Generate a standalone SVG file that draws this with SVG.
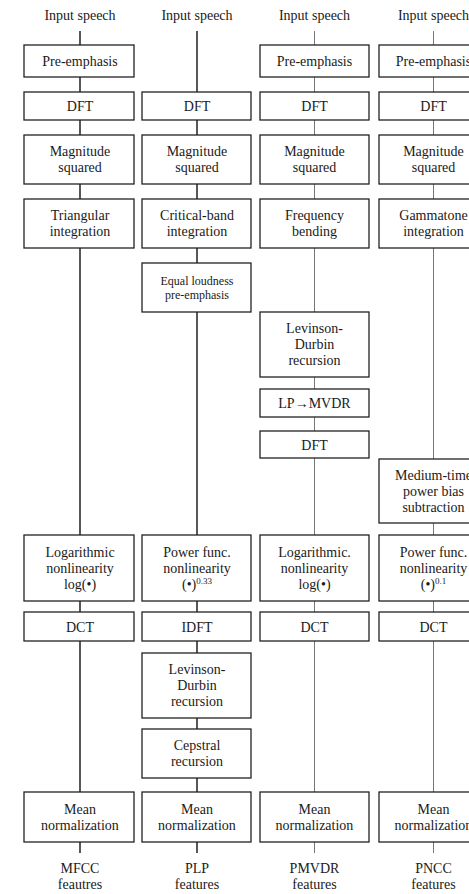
<svg xmlns="http://www.w3.org/2000/svg" width="469" height="894" viewBox="0 0 469 894" font-family="'Liberation Serif', 'Times New Roman', serif">
<style>
text{font-size:14px;fill:#1a1a1a;text-anchor:middle}
.s{font-size:12px}
.sup{font-size:9px}
rect{fill:#fff;stroke:#222;stroke-width:1.3}
.d line{stroke:#111;stroke-width:1.4}
.g line{stroke:#777;stroke-width:1}
</style>
<rect x="0" y="0" width="469" height="894" style="fill:#fff;stroke:none"/>
<g id="connectors">
 <g class="d">
  <line x1="80" y1="31" x2="80" y2="45"/><line x1="80" y1="77" x2="80" y2="92"/><line x1="80" y1="120" x2="80" y2="135"/><line x1="80" y1="184" x2="80" y2="199"/><line x1="80" y1="248" x2="80" y2="535"/><line x1="80" y1="601" x2="80" y2="612"/><line x1="80" y1="641" x2="80" y2="792"/><line x1="80" y1="842" x2="80" y2="853"/>
  <line x1="197" y1="31" x2="197" y2="92"/><line x1="197" y1="120" x2="197" y2="135"/><line x1="197" y1="184" x2="197" y2="199"/><line x1="197" y1="248" x2="197" y2="263"/><line x1="197" y1="312" x2="197" y2="535"/><line x1="197" y1="601" x2="197" y2="612"/><line x1="197" y1="641" x2="197" y2="653"/><line x1="197" y1="718" x2="197" y2="729"/><line x1="197" y1="778" x2="197" y2="792"/><line x1="197" y1="842" x2="197" y2="853"/>
 </g>
 <g class="g">
  <line x1="314.5" y1="31" x2="314.5" y2="45"/><line x1="314.5" y1="77" x2="314.5" y2="92"/><line x1="314.5" y1="120" x2="314.5" y2="135"/><line x1="314.5" y1="184" x2="314.5" y2="199"/><line x1="314.5" y1="248" x2="314.5" y2="312"/><line x1="314.5" y1="377" x2="314.5" y2="389"/><line x1="314.5" y1="417" x2="314.5" y2="431"/><line x1="314.5" y1="458" x2="314.5" y2="535"/><line x1="314.5" y1="601" x2="314.5" y2="612"/><line x1="314.5" y1="641" x2="314.5" y2="792"/><line x1="314.5" y1="842" x2="314.5" y2="853"/>
  <line x1="433.5" y1="31" x2="433.5" y2="45"/><line x1="433.5" y1="77" x2="433.5" y2="92"/><line x1="433.5" y1="120" x2="433.5" y2="135"/><line x1="433.5" y1="184" x2="433.5" y2="199"/><line x1="433.5" y1="248" x2="433.5" y2="459"/><line x1="433.5" y1="523" x2="433.5" y2="535"/><line x1="433.5" y1="601" x2="433.5" y2="612"/><line x1="433.5" y1="641" x2="433.5" y2="792"/><line x1="433.5" y1="842" x2="433.5" y2="853"/>
 </g>
</g>
<g id="mfcc">
 <text id="mfcc-in" x="80" y="20">Input speech</text>
 <g id="mfcc-pre"><rect x="24" y="45" width="110" height="32"/><text x="80" y="66">Pre-emphasis</text></g>
 <g id="mfcc-dft"><rect x="24" y="92" width="110" height="28"/><text x="80" y="111">DFT</text></g>
 <g id="mfcc-mag"><rect x="24" y="135" width="110" height="49"/><text x="80" y="156">Magnitude</text><text x="80" y="172">squared</text></g>
 <g id="mfcc-tri"><rect x="24" y="199" width="110" height="49"/><text x="80" y="220">Triangular</text><text x="80" y="236">integration</text></g>
 <g id="mfcc-log"><rect x="24" y="535" width="110" height="66"/><text x="80" y="557">Logarithmic</text><text x="80" y="573">nonlinearity</text><text x="80" y="589">log(•)</text></g>
 <g id="mfcc-dct"><rect x="24" y="612" width="110" height="29"/><text x="80" y="631.5">DCT</text></g>
 <g id="mfcc-mean"><rect x="24" y="792" width="110" height="50"/><text x="80" y="813.5">Mean</text><text x="80" y="829.5">normalization</text></g>
 <g id="mfcc-out"><text x="80" y="873">MFCC</text><text x="80" y="889">feautres</text></g>
</g>
<g id="plp">
 <text id="plp-in" x="197" y="20">Input speech</text>
 <g id="plp-dft"><rect x="142" y="92" width="109" height="28"/><text x="197" y="111">DFT</text></g>
 <g id="plp-mag"><rect x="142" y="135" width="109" height="49"/><text x="197" y="156">Magnitude</text><text x="197" y="172">squared</text></g>
 <g id="plp-cb"><rect x="142" y="199" width="109" height="49"/><text x="197" y="220">Critical-band</text><text x="197" y="236">integration</text></g>
 <g id="plp-eq"><rect x="142" y="263" width="109" height="49"/><text class="s" x="197" y="285">Equal loudness</text><text class="s" x="197" y="298.5">pre-emphasis</text></g>
 <g id="plp-pow"><rect x="142" y="535" width="109" height="66"/><text x="197" y="557">Power func.</text><text x="197" y="573">nonlinearity</text><text x="197" y="589">(•)<tspan class="sup" dy="-5">0.33</tspan></text></g>
 <g id="plp-idft"><rect x="142" y="612" width="109" height="29"/><text x="197" y="631.5">IDFT</text></g>
 <g id="plp-lev"><rect x="142" y="653" width="109" height="65"/><text x="197" y="674">Levinson-</text><text x="197" y="690">Durbin</text><text x="197" y="706">recursion</text></g>
 <g id="plp-cep"><rect x="142" y="729" width="109" height="49"/><text x="197" y="750">Cepstral</text><text x="197" y="766">recursion</text></g>
 <g id="plp-mean"><rect x="142" y="792" width="109" height="50"/><text x="197" y="813.5">Mean</text><text x="197" y="829.5">normalization</text></g>
 <g id="plp-out"><text x="197" y="873">PLP</text><text x="197" y="889">features</text></g>
</g>
<g id="pmvdr">
 <text id="pmvdr-in" x="314.5" y="20">Input speech</text>
 <g id="pmvdr-pre"><rect x="260" y="45" width="109" height="32"/><text x="314.5" y="66">Pre-emphasis</text></g>
 <g id="pmvdr-dft"><rect x="260" y="92" width="109" height="28"/><text x="314.5" y="111">DFT</text></g>
 <g id="pmvdr-mag"><rect x="260" y="135" width="109" height="49"/><text x="314.5" y="156">Magnitude</text><text x="314.5" y="172">squared</text></g>
 <g id="pmvdr-fb"><rect x="260" y="199" width="109" height="49"/><text x="314.5" y="220">Frequency</text><text x="314.5" y="236">bending</text></g>
 <g id="pmvdr-lev"><rect x="260" y="312" width="109" height="65"/><text x="314.5" y="333">Levinson-</text><text x="314.5" y="349">Durbin</text><text x="314.5" y="365">recursion</text></g>
 <g id="pmvdr-lp"><rect x="260" y="389" width="109" height="28"/><text x="314.5" y="408">LP→MVDR</text></g>
 <g id="pmvdr-dft2"><rect x="260" y="431" width="109" height="27"/><text x="314.5" y="449.5">DFT</text></g>
 <g id="pmvdr-log"><rect x="260" y="535" width="109" height="66"/><text x="314.5" y="557">Logarithmic.</text><text x="314.5" y="573">nonlinearity</text><text x="314.5" y="589">log(•)</text></g>
 <g id="pmvdr-dct"><rect x="260" y="612" width="109" height="29"/><text x="314.5" y="631.5">DCT</text></g>
 <g id="pmvdr-mean"><rect x="260" y="792" width="109" height="50"/><text x="314.5" y="813.5">Mean</text><text x="314.5" y="829.5">normalization</text></g>
 <g id="pmvdr-out"><text x="314.5" y="873">PMVDR</text><text x="314.5" y="889">features</text></g>
</g>
<g id="pncc">
 <text id="pncc-in" x="433.5" y="20">Input speech</text>
 <g id="pncc-pre"><rect x="379" y="45" width="110" height="32"/><text x="433.5" y="66">Pre-emphasis</text></g>
 <g id="pncc-dft"><rect x="379" y="92" width="110" height="28"/><text x="433.5" y="111">DFT</text></g>
 <g id="pncc-mag"><rect x="379" y="135" width="110" height="49"/><text x="433.5" y="156">Magnitude</text><text x="433.5" y="172">squared</text></g>
 <g id="pncc-gam"><rect x="379" y="199" width="110" height="49"/><text x="433.5" y="220">Gammatone</text><text x="433.5" y="236">integration</text></g>
 <g id="pncc-med"><rect x="379" y="459" width="110" height="64"/><text x="433.5" y="480">Medium-time</text><text x="433.5" y="496">power bias</text><text x="433.5" y="512">subtraction</text></g>
 <g id="pncc-pow"><rect x="379" y="535" width="110" height="66"/><text x="433.5" y="557">Power func.</text><text x="433.5" y="573">nonlinearity</text><text x="433.5" y="589">(•)<tspan class="sup" dy="-5">0.1</tspan></text></g>
 <g id="pncc-dct"><rect x="379" y="612" width="110" height="29"/><text x="433.5" y="631.5">DCT</text></g>
 <g id="pncc-mean"><rect x="379" y="792" width="110" height="50"/><text x="433.5" y="813.5">Mean</text><text x="433.5" y="829.5">normalization</text></g>
 <g id="pncc-out"><text x="433.5" y="873">PNCC</text><text x="433.5" y="889">features</text></g>
</g>
</svg>
